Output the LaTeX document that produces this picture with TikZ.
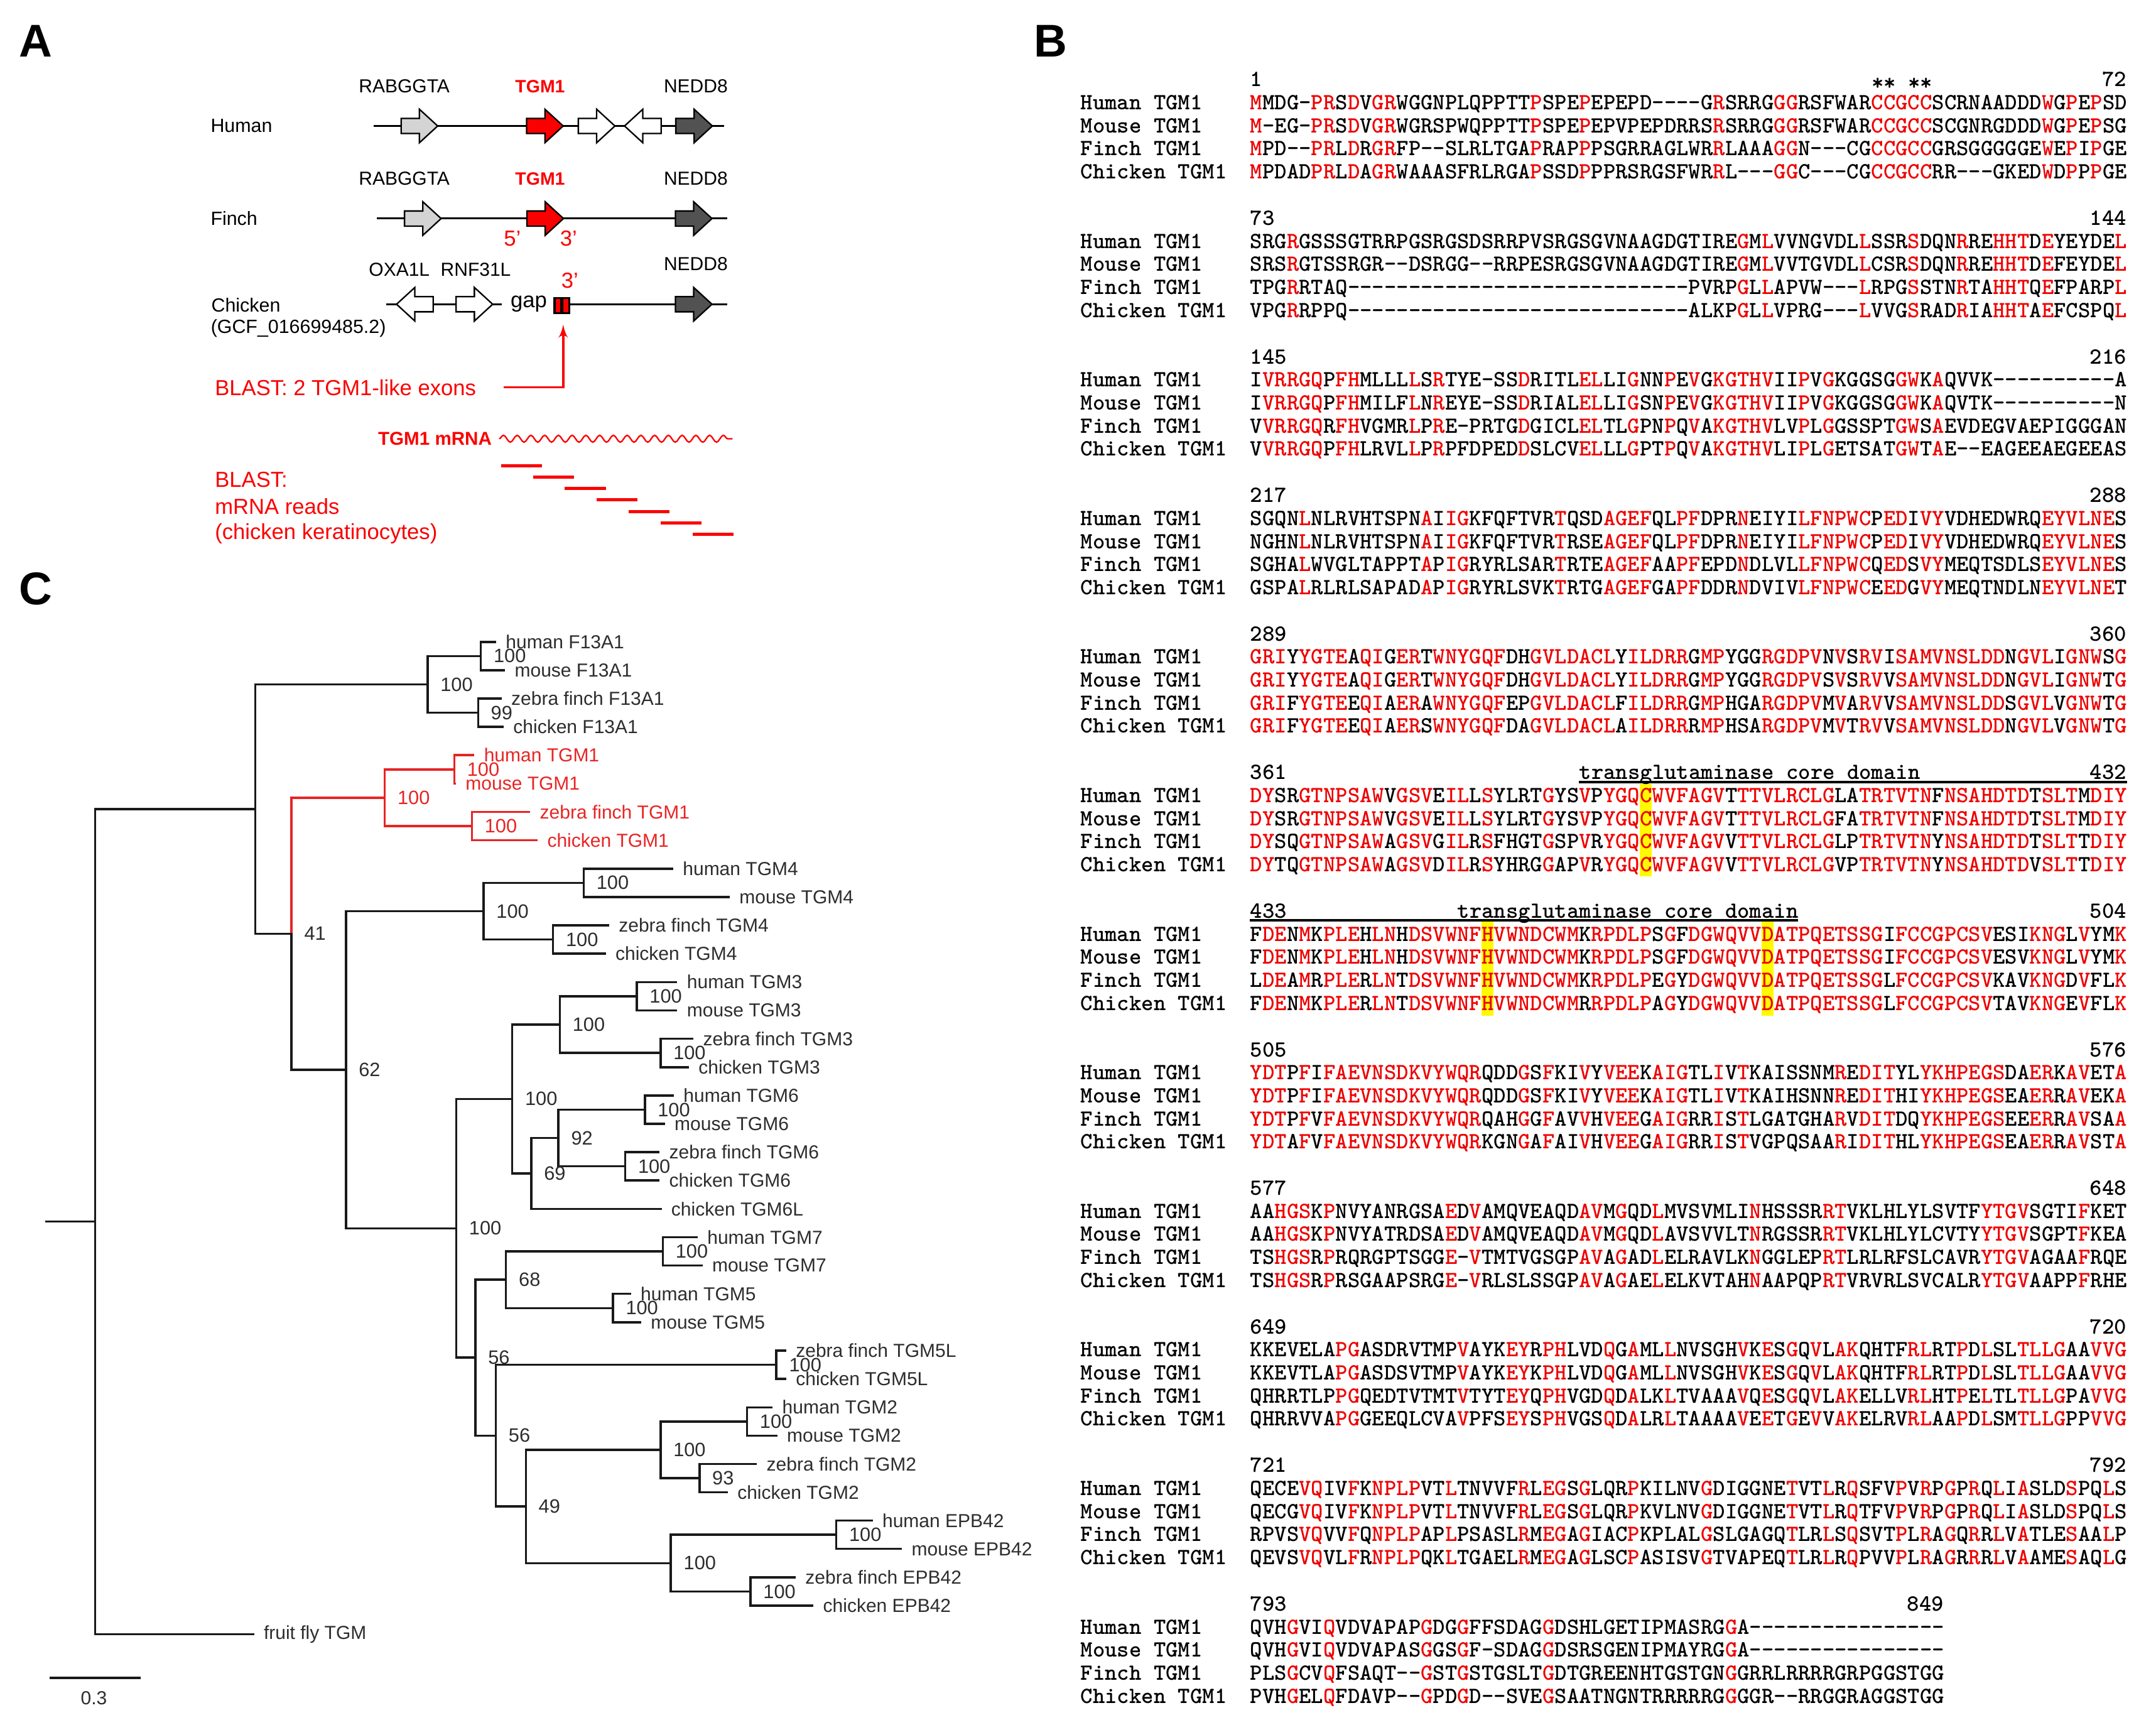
\documentclass[tikz,border=0pt]{standalone}
\usepackage{fontspec}
\setmainfont{Liberation Sans}
\newfontfamily\alnfont{lmmonolt10-bold.otf}
\usepackage{tikz}
\usetikzlibrary{arrows,decorations.pathmorphing}
\definecolor{xred}{RGB}{250,0,0}
\definecolor{alred}{RGB}{238,0,0}
\definecolor{treered}{RGB}{232,36,36}
\definecolor{xgray}{RGB}{212,212,212}
\definecolor{xdark}{RGB}{82,82,82}
\definecolor{xyellow}{RGB}{255,250,0}
\definecolor{treeline}{RGB}{25,25,25}
\definecolor{treetext}{RGB}{45,45,45}

% alignment: red where all four rows agree
\newcount\alncols
\newif\ifalnsame
\newif\ifalnmore
\def\alnadd#1#2{\edef#1{\unexpanded\expandafter{#1}\unexpanded{#2}}}
\def\alnstep#1#2\alnsep#3#4\alnsep#5#6\alnsep#7#8\alnsep{%
  \advance\alncols by 1
  \alnsamefalse
  \if#1#3\if#1#5\if#1#7\if#1-\else\alnsametrue\fi\fi\fi\fi
  \ifalnsame
    \alnadd\rowA{\textcolor{alred}{#1}}\alnadd\rowB{\textcolor{alred}{#3}}%
    \alnadd\rowC{\textcolor{alred}{#5}}\alnadd\rowD{\textcolor{alred}{#7}}%
  \else
    \alnadd\rowA{#1}\alnadd\rowB{#3}\alnadd\rowC{#5}\alnadd\rowD{#7}%
  \fi
  \alnmoretrue
  \if\relax\detokenize{#2}\relax\alnmorefalse\fi
  \if\relax\detokenize{#4}\relax\alnmorefalse\fi
  \if\relax\detokenize{#6}\relax\alnmorefalse\fi
  \if\relax\detokenize{#8}\relax\alnmorefalse\fi
  \ifalnmore\alnstep#2\alnsep#4\alnsep#6\alnsep#8\alnsep\fi}
\newcommand\alnblock[7]{%
  \def\rowA{}\def\rowB{}\def\rowC{}\def\rowD{}\alncols=0
  \alnstep#4\alnsep#5\alnsep#6\alnsep#7\alnsep
  \pgfmathsetmacro\alny{57.9+100.75*#1}%
  \node[alnrow] (s#1) at (909,\alny+5.1) {#2};
  \node[alnrow,anchor=base east] (e#1) at ({909+8.86*\the\alncols},\alny+5.1) {#3};
  \node[alnrow] (lh#1) at (785.6,\alny+21.85) {Human TGM1};
  \node[alnrow] (lm#1) at (785.6,\alny+38.6) {Mouse TGM1};
  \node[alnrow] (lf#1) at (785.6,\alny+55.35) {Finch TGM1};
  \node[alnrow] (lc#1) at (785.6,\alny+72.1) {Chicken TGM1};
  \node[alnrow] (sh#1) at (909,\alny+21.85) {\rowA};
  \node[alnrow] (sm#1) at (909,\alny+38.6) {\rowB};
  \node[alnrow] (sf#1) at (909,\alny+55.35) {\rowC};
  \node[alnrow] (sc#1) at (909,\alny+72.1) {\rowD};}

\begin{document}
\begin{tikzpicture}[x=0.02cm,y=-0.02cm]
\tikzset{panel/.style={inner sep=0pt,font=\fontsize{19}{22}\selectfont\bfseries}}
\tikzset{species/.style={anchor=west,inner sep=0pt,font=\fontsize{7.9}{9.5}\selectfont}}
\tikzset{genename/.style={inner sep=0pt,font=\fontsize{7.8}{9.5}\selectfont}}
\tikzset{tgmname/.style={inner sep=0pt,text=xred,font=\fontsize{7.4}{9}\selectfont\bfseries}}
\tikzset{redtext/.style={anchor=west,inner sep=0pt,text=xred,font=\fontsize{9}{11}\selectfont}}
\tikzset{primemark/.style={inner sep=0pt,text=xred,font=\fontsize{9}{11}\selectfont}}
\tikzset{track/.style={draw=black,line width=0.75pt}}
\tikzset{genebox/.style={draw=black,line width=0.6pt}}
\tikzset{gene/.pic={\filldraw[genebox,fill=#1] (-13.3,-5.5) -- (0,-5.5) -- (0,-12.2) -- (13.3,0) -- (0,12.2) -- (0,5.5) -- (-13.3,5.5) -- cycle;}}
\tikzset{exon/.style={draw=black,fill=xred,line width=0.9pt,inner sep=0pt,minimum width=0.1cm,minimum height=0.22cm}}
\tikzset{redarrow/.style={draw=xred,line width=0.9pt,-latex'}}
\tikzset{wavy/.style={draw=xred,line width=0.6pt,decorate,decoration={snake,amplitude=0.05cm,segment length=0.2cm}}}
\tikzset{readbar/.style={draw=xred,line width=1.3pt}}
\tikzset{branch/.style={draw=treeline,line width=0.9pt,line cap=rect}}
\tikzset{tgmbranch/.style={draw=treered,line width=0.9pt,line cap=rect}}
\tikzset{leaf/.style={anchor=west,inner sep=0pt,xshift=0.15cm,text=treetext,font=\fontsize{7.8}{9}\selectfont}}
\tikzset{boot/.style={anchor=west,inner sep=0pt,xshift=0.18cm,text=treetext,font=\fontsize{8}{9}\selectfont}}
\tikzset{alnrow/.style={anchor=base west,inner sep=0pt,font=\alnfont\fontsize{9.6}{11}\selectfont}}
\useasboundingbox (0,0) rectangle (1568,1254);

% ---------- A: gene neighbourhood ----------
\node[panel] (pA) at (26,30) {A};
\node[species] (hum) at (152.9,91.6) {Human};
\coordinate (hum0) at (271.6,91.6);
\coordinate (hum1) at (526.4,91.6);
\draw[track] (hum0) -- (hum1);
\pic at (305,91.6) {gene=xgray};
\pic at (396.3,91.6) {gene=xred};
\pic at (433.9,91.6) {gene=white};
\pic[rotate=180] at (467.5,91.6) {gene=white};
\pic at (504.8,91.6) {gene=xdark};
\node[genename] (hrab) at (294,62.8) {RABGGTA};
\node[tgmname] (htgm) at (392.8,62.8) {TGM1};
\node[genename] (hned) at (506,62.8) {NEDD8};

\node[species] (fin) at (152.9,158.9) {Finch};
\coordinate (fin0) at (274,158.9);
\coordinate (fin1) at (529,158.9);
\draw[track] (fin0) -- (fin1);
\pic at (307.5,158.9) {gene=xgray};
\pic at (396.5,158.9) {gene=xred};
\pic at (504.5,158.9) {gene=xdark};
\node[genename] (frab) at (294,130) {RABGGTA};
\node[tgmname] (ftgm) at (392.8,130) {TGM1};
\node[genename] (fned) at (506,130) {NEDD8};
\node[primemark] (f5) at (372.6,173.3) {5'};
\node[primemark] (f3) at (413.5,173.3) {3'};

\node[species] (chk) at (153.4,222) {Chicken};
\node[species] (chkacc) at (153,238.7) {(GCF\_016699485.2)};
\coordinate (chk0) at (281,221.2);
\coordinate (chk1) at (365,221.2);
\coordinate (chk2) at (414.4,221.2);
\coordinate (chk3) at (529,221.2);
\draw[track] (chk0) -- (chk1);
\draw[track] (chk2) -- (chk3);
\pic[rotate=180] at (301.7,221.2) {gene=white};
\pic at (345,221.2) {gene=white};
\pic at (504.5,221.2) {gene=xdark};
\node[genename,font=\fontsize{9}{11}\selectfont] (gap) at (384.6,221) {gap};
\node[exon] (ex1) at (405.8,222.2) {};
\node[exon] (ex2) at (411.6,222.2) {};
\node[genename] (coxa) at (290.4,196) {OXA1L};
\node[genename] (crnf) at (346,196) {RNF31L};
\node[genename] (cned) at (506,192) {NEDD8};
\node[primemark] (c3) at (414.4,203.9) {3'};

\node[redtext] (blx) at (156,281.7) {BLAST: 2 TGM1-like exons};
\coordinate (exarrow) at (409.6,236);
\draw[redarrow] ([xshift=0.4cm]blx.east) -| (exarrow);

\node[tgmname,anchor=east,font=\fontsize{7.7}{9}\selectfont\bfseries] (mrna) at (358,319) {TGM1 mRNA};
\draw[wavy] ([xshift=0.1cm]mrna.east) -- ++(169.7,0);
\foreach \i in {0,...,6}
  \draw[readbar] (364.4+23.2*\i,338.6+8.3*\i) -- ++(29.8,0);
\node[redtext] (rd1) at (156,348.6) {BLAST:};
\node[redtext] (rd2) at (156,368.2) {mRNA reads};
\node[redtext] (rd3) at (156,387.8) {(chicken keratinocytes)};

% ---------- B: alignment ----------
\node[panel] (pB) at (764,30) {B};
\fill[xyellow] (1192.5,570) rectangle (1201.4,637);
\fill[xyellow] (1077.3,670) rectangle (1086.2,738.5);
\fill[xyellow] (1281.1,670) rectangle (1290,738.5);
\alnblock{0}{1}{72}
 {MMDG-PRSDVGRWGGNPLQPPTTPSPEPEPEPD----GRSRRGGGRSFWARCCGCCSCRNAADDDWGPEPSD}
 {M-EG-PRSDVGRWGRSPWQPPTTPSPEPEPVPEPDRRSRSRRGGGRSFWARCCGCCSCGNRGDDDWGPEPSG}
 {MPD--PRLDRGRFP--SLRLTGAPRAPPPSGRRAGLWRRLAAAGGN---CGCCGCCGRSGGGGGEWEPIPGE}
 {MPDADPRLDAGRWAAASFRLRGAPSSDPPPRSRGSFWRRL---GGC---CGCCGCCRR---GKEDWDPPPGE}
\alnblock{1}{73}{144}
 {SRGRGSSSGTRRPGSRGSDSRRPVSRGSGVNAAGDGTIREGMLVVNGVDLLSSRSDQNRREHHTDEYEYDEL}
 {SRSRGTSSRGR--DSRGG--RRPESRGSGVNAAGDGTIREGMLVVTGVDLLCSRSDQNRREHHTDEFEYDEL}
 {TPGRRTAQ----------------------------PVRPGLLAPVW---LRPGSSTNRTAHHTQEFPARPL}
 {VPGRRPPQ----------------------------ALKPGLLVPRG---LVVGSRADRIAHHTAEFCSPQL}
\alnblock{2}{145}{216}
 {IVRRGQPFHMLLLLSRTYE-SSDRITLELLIGNNPEVGKGTHVIIPVGKGGSGGWKAQVVK----------A}
 {IVRRGQPFHMILFLNREYE-SSDRIALELLIGSNPEVGKGTHVIIPVGKGGSGGWKAQVTK----------N}
 {VVRRGQRFHVGMRLPRE-PRTGDGICLELTLGPNPQVAKGTHVLVPLGGSSPTGWSAEVDEGVAEPIGGGAN}
 {VVRRGQPFHLRVLLPRPFDPEDDSLCVELLLGPTPQVAKGTHVLIPLGETSATGWTAE--EAGEEAEGEEAS}
\alnblock{3}{217}{288}
 {SGQNLNLRVHTSPNAIIGKFQFTVRTQSDAGEFQLPFDPRNEIYILFNPWCPEDIVYVDHEDWRQEYVLNES}
 {NGHNLNLRVHTSPNAIIGKFQFTVRTRSEAGEFQLPFDPRNEIYILFNPWCPEDIVYVDHEDWRQEYVLNES}
 {SGHALWVGLTAPPTAPIGRYRLSARTRTEAGEFAAPFEPDNDLVLLFNPWCQEDSVYMEQTSDLSEYVLNES}
 {GSPALRLRLSAPADAPIGRYRLSVKTRTGAGEFGAPFDDRNDVIVLFNPWCEEDGVYMEQTNDLNEYVLNET}
\alnblock{4}{289}{360}
 {GRIYYGTEAQIGERTWNYGQFDHGVLDACLYILDRRGMPYGGRGDPVNVSRVISAMVNSLDDNGVLIGNWSG}
 {GRIYYGTEAQIGERTWNYGQFDHGVLDACLYILDRRGMPYGGRGDPVSVSRVVSAMVNSLDDNGVLIGNWTG}
 {GRIFYGTEEQIAERAWNYGQFEPGVLDACLFILDRRGMPHGARGDPVMVARVVSAMVNSLDDSGVLVGNWTG}
 {GRIFYGTEEQIAERSWNYGQFDAGVLDACLAILDRRRMPHSARGDPVMVTRVVSAMVNSLDDNGVLVGNWTG}
\alnblock{5}{361}{432}
 {DYSRGTNPSAWVGSVEILLSYLRTGYSVPYGQCWVFAGVTTTVLRCLGLATRTVTNFNSAHDTDTSLTMDIY}
 {DYSRGTNPSAWVGSVEILLSYLRTGYSVPYGQCWVFAGVTTTVLRCLGFATRTVTNFNSAHDTDTSLTMDIY}
 {DYSQGTNPSAWAGSVGILRSFHGTGSPVRYGQCWVFAGVVTTVLRCLGLPTRTVTNYNSAHDTDTSLTTDIY}
 {DYTQGTNPSAWAGSVDILRSYHRGGAPVRYGQCWVFAGVVTTVLRCLGVPTRTVTNYNSAHDTDVSLTTDIY}
\alnblock{6}{433}{504}
 {FDENMKPLEHLNHDSVWNFHVWNDCWMKRPDLPSGFDGWQVVDATPQETSSGIFCCGPCSVESIKNGLVYMK}
 {FDENMKPLEHLNHDSVWNFHVWNDCWMKRPDLPSGFDGWQVVDATPQETSSGIFCCGPCSVESVKNGLVYMK}
 {LDEAMRPLERLNTDSVWNFHVWNDCWMKRPDLPEGYDGWQVVDATPQETSSGLFCCGPCSVKAVKNGDVFLK}
 {FDENMKPLERLNTDSVWNFHVWNDCWMRRPDLPAGYDGWQVVDATPQETSSGLFCCGPCSVTAVKNGEVFLK}
\alnblock{7}{505}{576}
 {YDTPFIFAEVNSDKVYWQRQDDGSFKIVYVEEKAIGTLIVTKAISSNMREDITYLYKHPEGSDAERKAVETA}
 {YDTPFIFAEVNSDKVYWQRQDDGSFKIVYVEEKAIGTLIVTKAIHSNNREDITHIYKHPEGSEAERRAVEKA}
 {YDTPFVFAEVNSDKVYWQRQAHGGFAVVHVEEGAIGRRISTLGATGHARVDITDQYKHPEGSEEERRAVSAA}
 {YDTAFVFAEVNSDKVYWQRKGNGAFAIVHVEEGAIGRRISTVGPQSAARIDITHLYKHPEGSEAERRAVSTA}
\alnblock{8}{577}{648}
 {AAHGSKPNVYANRGSAEDVAMQVEAQDAVMGQDLMVSVMLINHSSSRRTVKLHLYLSVTFYTGVSGTIFKET}
 {AAHGSKPNVYATRDSAEDVAMQVEAQDAVMGQDLAVSVVLTNRGSSRRTVKLHLYLCVTYYTGVSGPTFKEA}
 {TSHGSRPRQRGPTSGGE-VTMTVGSGPAVAGADLELRAVLKNGGLEPRTLRLRFSLCAVRYTGVAGAAFRQE}
 {TSHGSRPRSGAAPSRGE-VRLSLSSGPAVAGAELELKVTAHNAAPQPRTVRVRLSVCALRYTGVAAPPFRHE}
\alnblock{9}{649}{720}
 {KKEVELAPGASDRVTMPVAYKEYRPHLVDQGAMLLNVSGHVKESGQVLAKQHTFRLRTPDLSLTLLGAAVVG}
 {KKEVTLAPGASDSVTMPVAYKEYKPHLVDQGAMLLNVSGHVKESGQVLAKQHTFRLRTPDLSLTLLGAAVVG}
 {QHRRTLPPGQEDTVTMTVTYTEYQPHVGDQDALKLTVAAAVQESGQVLAKELLVRLHTPELTLTLLGPAVVG}
 {QHRRVVAPGGEEQLCVAVPFSEYSPHVGSQDALRLTAAAAVEETGEVVAKELRVRLAAPDLSMTLLGPPVVG}
\alnblock{10}{721}{792}
 {QECEVQIVFKNPLPVTLTNVVFRLEGSGLQRPKILNVGDIGGNETVTLRQSFVPVRPGPRQLIASLDSPQLS}
 {QECGVQIVFKNPLPVTLTNVVFRLEGSGLQRPKVLNVGDIGGNETVTLRQTFVPVRPGPRQLIASLDSPQLS}
 {RPVSVQVVFQNPLPAPLPSASLRMEGAGIACPKPLALGSLGAGQTLRLSQSVTPLRAGQRRLVATLESAALP}
 {QEVSVQVLFRNPLPQKLTGAELRMEGAGLSCPASISVGTVAPEQTLRLRQPVVPLRAGRRRLVAAMESAQLG}
\alnblock{11}{793}{849}
 {QVHGVIQVDVAPAPGDGGFFSDAGGDSHLGETIPMASRGGA----------------}
 {QVHGVIQVDVAPASGGSGF-SDAGGDSRSGENIPMAYRGGA----------------}
 {PLSGCVQFSAQT--GSTGSTGSLTGDTGREENHTGSTGNGGRRLRRRRGRPGGSTGG}
 {PVHGELQFDAVP--GPDGD--SVEGSAATNGNTRRRRRGGGGR--RRGGRAGGSTGG}
\node[alnrow] (stars) at (1360.9,65.6) {** **};
\node[alnrow] (dom1) at (1148.2,566.8) {transglutaminase core domain};
\node[alnrow] (dom2) at (1059.6,667.5) {transglutaminase core domain};
\draw[line width=1pt] (1148.2,568.6) -- (1547,568.6);
\draw[line width=1pt] (909,669.3) -- (1307.7,669.3);

% ---------- C: tree ----------
\node[panel] (pC) at (26,428) {C};
\coordinate (rootstub) at (33.7,888.15);
\coordinate (root) at (69.3,888.15);
\coordinate (nf13tgm) at (185.7,588.25);
\coordinate (nf13) at (311,497.6);
\coordinate (nf13hm) at (349.7,477);
\coordinate (nf13zc) at (347.7,518.2);
\coordinate (n41) at (212,678.9);
\coordinate (ntgm1) at (279.8,580.05);
\coordinate (nt1hm) at (330.4,559.4);
\coordinate (nt1zc) at (343.2,600.7);
\coordinate (n62) at (251.6,777.8);
\coordinate (ntgm4) at (351.7,662.5);
\coordinate (nt4hm) at (424.5,641.9);
\coordinate (nt4zc) at (402.2,683.1);
\coordinate (nrest) at (331.8,893.05);
\coordinate (nt36) at (372.5,799);
\coordinate (ntgm3) at (407.1,744.9);
\coordinate (nt3hm) at (463.1,724.3);
\coordinate (nt3zc) at (480.4,765.55);
\coordinate (n69) at (386.3,853.15);
\coordinate (n92) at (406.1,827.4);
\coordinate (nt6hm) at (469,806.8);
\coordinate (nt6zc) at (454.7,848);
\coordinate (n56a) at (345.7,987.1);
\coordinate (n68) at (368,930.4);
\coordinate (ntgm7) at (482,909.8);
\coordinate (ntgm5) at (445.8,951.05);
\coordinate (n56b) at (360.6,1043.8);
\coordinate (nt5l) at (564.6,992.3);
\coordinate (n49) at (382.4,1095.3);
\coordinate (ntgm2) at (480.4,1054.1);
\coordinate (nt2hm) at (543.3,1033.5);
\coordinate (nt2zc) at (508.7,1074.7);
\coordinate (nepb) at (487.9,1136.5);
\coordinate (nehm) at (608.2,1115.9);
\coordinate (nezc) at (545.8,1157.1);
% leaf tips
\coordinate (lhF13) at (360,466.7);
\coordinate (lmF13) at (366.5,487.3);
\coordinate (lzF13) at (364,507.9);
\coordinate (lcF13) at (365.5,528.5);
\coordinate (lhT1) at (344.2,549.1);
\coordinate (lmT1) at (330.8,569.8);
\coordinate (lzT1) at (384.8,590.4);
\coordinate (lcT1) at (390.2,611);
\coordinate (lhT4) at (488.8,631.6);
\coordinate (lmT4) at (529.9,652.2);
\coordinate (lzT4) at (442.2,672.8);
\coordinate (lcT4) at (439.8,693.4);
\coordinate (lhT3) at (491.8,714);
\coordinate (lmT3) at (491.8,734.6);
\coordinate (lzT3) at (503.5,755.2);
\coordinate (lcT3) at (500.2,775.9);
\coordinate (lhT6) at (489.3,796.5);
\coordinate (lmT6) at (482.8,817.1);
\coordinate (lzT6) at (478.9,837.7);
\coordinate (lcT6) at (478.9,858.3);
\coordinate (lcT6L) at (480.4,878.9);
\coordinate (lhT7) at (506.6,899.5);
\coordinate (lmT7) at (510.1,920.1);
\coordinate (lhT5) at (458.1,940.7);
\coordinate (lmT5) at (465.5,961.4);
\coordinate (lzT5L) at (571,982);
\coordinate (lcT5L) at (571,1002.6);
\coordinate (lhT2) at (561.1,1023.2);
\coordinate (lmT2) at (564.5,1043.8);
\coordinate (lzT2) at (549.7,1064.4);
\coordinate (lcT2) at (528.5,1085);
\coordinate (lhE) at (633.9,1105.6);
\coordinate (lmE) at (655.2,1126.2);
\coordinate (lzE) at (577.9,1146.9);
\coordinate (lcE) at (590.8,1167.5);
\coordinate (lfly) at (184,1188.1);

\draw[branch] (rootstub) -- (root);
\draw[branch] (root) |- (nf13tgm);
\draw[branch] (root) |- (lfly);
\draw[branch] (nf13tgm) |- (nf13);
\draw[branch] (nf13tgm) |- (n41);
\draw[branch] (nf13) |- (nf13hm);
\draw[branch] (nf13) |- (nf13zc);
\draw[branch] (nf13hm) |- (lhF13);
\draw[branch] (nf13hm) |- (lmF13);
\draw[branch] (nf13zc) |- (lzF13);
\draw[branch] (nf13zc) |- (lcF13);
\draw[tgmbranch] (n41) |- (ntgm1);
\draw[tgmbranch] (ntgm1) |- (nt1hm);
\draw[tgmbranch] (ntgm1) |- (nt1zc);
\draw[tgmbranch] (nt1hm) |- (lhT1);
\draw[tgmbranch] (nt1hm) |- (lmT1);
\draw[tgmbranch] (nt1zc) |- (lzT1);
\draw[tgmbranch] (nt1zc) |- (lcT1);
\draw[branch] (n41) |- (n62);
\draw[branch] (n62) |- (ntgm4);
\draw[branch] (n62) |- (nrest);
\draw[branch] (ntgm4) |- (nt4hm);
\draw[branch] (ntgm4) |- (nt4zc);
\draw[branch] (nt4hm) |- (lhT4);
\draw[branch] (nt4hm) |- (lmT4);
\draw[branch] (nt4zc) |- (lzT4);
\draw[branch] (nt4zc) |- (lcT4);
\draw[branch] (nrest) |- (nt36);
\draw[branch] (nrest) |- (n56a);
\draw[branch] (nt36) |- (ntgm3);
\draw[branch] (nt36) |- (n69);
\draw[branch] (ntgm3) |- (nt3hm);
\draw[branch] (ntgm3) |- (nt3zc);
\draw[branch] (nt3hm) |- (lhT3);
\draw[branch] (nt3hm) |- (lmT3);
\draw[branch] (nt3zc) |- (lzT3);
\draw[branch] (nt3zc) |- (lcT3);
\draw[branch] (n69) |- (n92);
\draw[branch] (n69) |- (lcT6L);
\draw[branch] (n92) |- (nt6hm);
\draw[branch] (n92) |- (nt6zc);
\draw[branch] (nt6hm) |- (lhT6);
\draw[branch] (nt6hm) |- (lmT6);
\draw[branch] (nt6zc) |- (lzT6);
\draw[branch] (nt6zc) |- (lcT6);
\draw[branch] (n56a) |- (n68);
\draw[branch] (n56a) |- (n56b);
\draw[branch] (n68) |- (ntgm7);
\draw[branch] (n68) |- (ntgm5);
\draw[branch] (ntgm7) |- (lhT7);
\draw[branch] (ntgm7) |- (lmT7);
\draw[branch] (ntgm5) |- (lhT5);
\draw[branch] (ntgm5) |- (lmT5);
\draw[branch] (n56b) |- (nt5l);
\draw[branch] (n56b) |- (n49);
\draw[branch] (nt5l) |- (lzT5L);
\draw[branch] (nt5l) |- (lcT5L);
\draw[branch] (n49) |- (ntgm2);
\draw[branch] (n49) |- (nepb);
\draw[branch] (ntgm2) |- (nt2hm);
\draw[branch] (ntgm2) |- (nt2zc);
\draw[branch] (nt2hm) |- (lhT2);
\draw[branch] (nt2hm) |- (lmT2);
\draw[branch] (nt2zc) |- (lzT2);
\draw[branch] (nt2zc) |- (lcT2);
\draw[branch] (nepb) |- (nehm);
\draw[branch] (nepb) |- (nezc);
\draw[branch] (nehm) |- (lhE);
\draw[branch] (nehm) |- (lmE);
\draw[branch] (nezc) |- (lzE);
\draw[branch] (nezc) |- (lcE);

% leaf names
\node[leaf] (thF13) at (lhF13) {human F13A1};
\node[leaf] (tmF13) at (lmF13) {mouse F13A1};
\node[leaf] (tzF13) at (lzF13) {zebra finch F13A1};
\node[leaf] (tcF13) at (lcF13) {chicken F13A1};
\node[leaf,text=treered] (thT1) at (lhT1) {human TGM1};
\node[leaf,text=treered] (tmT1) at (lmT1) {mouse TGM1};
\node[leaf,text=treered] (tzT1) at (lzT1) {zebra finch TGM1};
\node[leaf,text=treered] (tcT1) at (lcT1) {chicken TGM1};
\node[leaf] (thT4) at (lhT4) {human TGM4};
\node[leaf] (tmT4) at (lmT4) {mouse TGM4};
\node[leaf] (tzT4) at (lzT4) {zebra finch TGM4};
\node[leaf] (tcT4) at (lcT4) {chicken TGM4};
\node[leaf] (thT3) at (lhT3) {human TGM3};
\node[leaf] (tmT3) at (lmT3) {mouse TGM3};
\node[leaf] (tzT3) at (lzT3) {zebra finch TGM3};
\node[leaf] (tcT3) at (lcT3) {chicken TGM3};
\node[leaf] (thT6) at (lhT6) {human TGM6};
\node[leaf] (tmT6) at (lmT6) {mouse TGM6};
\node[leaf] (tzT6) at (lzT6) {zebra finch TGM6};
\node[leaf] (tcT6) at (lcT6) {chicken TGM6};
\node[leaf] (tcT6L) at (lcT6L) {chicken TGM6L};
\node[leaf] (thT7) at (lhT7) {human TGM7};
\node[leaf] (tmT7) at (lmT7) {mouse TGM7};
\node[leaf] (thT5) at (lhT5) {human TGM5};
\node[leaf] (tmT5) at (lmT5) {mouse TGM5};
\node[leaf] (tzT5L) at (lzT5L) {zebra finch TGM5L};
\node[leaf] (tcT5L) at (lcT5L) {chicken TGM5L};
\node[leaf] (thT2) at (lhT2) {human TGM2};
\node[leaf] (tmT2) at (lmT2) {mouse TGM2};
\node[leaf] (tzT2) at (lzT2) {zebra finch TGM2};
\node[leaf] (tcT2) at (lcT2) {chicken TGM2};
\node[leaf] (thE) at (lhE) {human EPB42};
\node[leaf] (tmE) at (lmE) {mouse EPB42};
\node[leaf] (tzE) at (lzE) {zebra finch EPB42};
\node[leaf] (tcE) at (lcE) {chicken EPB42};
\node[leaf] (tfly) at (lfly) {fruit fly TGM};

% support values
\node[boot] (bf13) at (nf13) {100};
\node[boot] (bf13hm) at (nf13hm) {100};
\node[boot] (bf13zc) at (nf13zc) {99};
\node[boot] (b41) at (n41) {41};
\node[boot,text=treered] (btgm1) at (ntgm1) {100};
\node[boot,text=treered] (bt1hm) at (nt1hm) {100};
\node[boot,text=treered] (bt1zc) at (nt1zc) {100};
\node[boot] (b62) at (n62) {62};
\node[boot] (btgm4) at (ntgm4) {100};
\node[boot] (bt4hm) at (nt4hm) {100};
\node[boot] (bt4zc) at (nt4zc) {100};
\node[boot] (brest) at (nrest) {100};
\node[boot] (bt36) at (nt36) {100};
\node[boot] (btgm3) at (ntgm3) {100};
\node[boot] (bt3hm) at (nt3hm) {100};
\node[boot] (bt3zc) at (nt3zc) {100};
\node[boot] (b92) at (n92) {92};
\node[boot] (b69) at (n69) {69};
\node[boot] (bt6hm) at (nt6hm) {100};
\node[boot] (bt6zc) at (nt6zc) {100};
\node[boot] (b56a) at (n56a) {56};
\node[boot] (b68) at (n68) {68};
\node[boot] (btgm7) at (ntgm7) {100};
\node[boot] (btgm5) at (ntgm5) {100};
\node[boot] (b56b) at (n56b) {56};
\node[boot] (bt5l) at (nt5l) {100};
\node[boot] (b49) at (n49) {49};
\node[boot] (btgm2) at (ntgm2) {100};
\node[boot] (bt2hm) at (nt2hm) {100};
\node[boot] (bt2zc) at (nt2zc) {93};
\node[boot] (bepb) at (nepb) {100};
\node[boot] (behm) at (nehm) {100};
\node[boot] (bezc) at (nezc) {100};

\coordinate (sb0) at (37.1,1220);
\coordinate (sb1) at (101.5,1220);
\draw[branch] (sb0) -- (sb1);
\node[genename,text=treetext] (sbl) at (68.3,1234.5) {0.3};
\end{tikzpicture}
\end{document}
